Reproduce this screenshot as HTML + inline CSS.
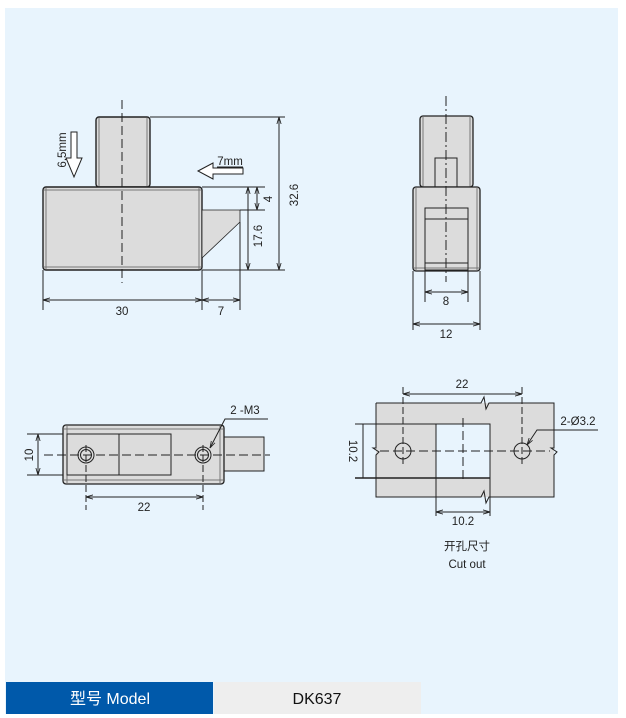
<!DOCTYPE html>
<html><head><meta charset="utf-8"><style>
html,body{margin:0;padding:0;background:#fff;}
svg{display:block;}
text{font-family:"Liberation Sans","Noto Sans CJK SC",sans-serif;fill:#222;}
</style></head><body>
<svg width="626" height="718" viewBox="0 0 626 718" xmlns="http://www.w3.org/2000/svg">
<defs>
<marker id="a" viewBox="0 0 10 10" refX="10" refY="5" markerWidth="7" markerHeight="7" orient="auto-start-reverse"><path d="M0,2 L10,5 L0,8" fill="none" stroke="#222" stroke-width="1.2"/></marker>
</defs>
<rect x="5" y="8" width="613" height="706" fill="#e8f4fd"/>

<g stroke="#222" fill="none" stroke-width="1">
<!-- FRONT VIEW -->
<rect x="96" y="117" width="54" height="70" rx="3" fill="#dcdcdc" stroke-width="1.4"/>
<line x1="99" y1="118" x2="99" y2="187" stroke="#777"/><line x1="147" y1="118" x2="147" y2="187" stroke="#777"/>
<rect x="43" y="187" width="159" height="83" rx="3" fill="#dcdcdc" stroke-width="1.4"/>
<line x1="46" y1="188" x2="46" y2="269" stroke="#777"/><line x1="199" y1="188" x2="199" y2="269" stroke="#777"/>
<line x1="44" y1="190" x2="201" y2="190" stroke="#777"/><line x1="44" y1="267" x2="201" y2="267" stroke="#777"/>
<polygon points="202,210 240,210 240,222 202,258" fill="#dcdcdc" stroke-width="0.8"/>
<line x1="122" y1="100" x2="122" y2="283" stroke-dasharray="9,4"/>
<line x1="150" y1="117" x2="285" y2="117"/>
<line x1="202" y1="270" x2="285" y2="270"/>
<line x1="202" y1="187" x2="265" y2="187"/>
<line x1="240" y1="210" x2="265" y2="210"/>
<line x1="279" y1="117" x2="279" y2="270" marker-start="url(#a)" marker-end="url(#a)"/>
<line x1="248" y1="187" x2="248" y2="270" marker-start="url(#a)" marker-end="url(#a)"/>
<line x1="257" y1="187" x2="257" y2="210" marker-start="url(#a)" marker-end="url(#a)"/>
<line x1="43" y1="270" x2="43" y2="310"/><line x1="202" y1="270" x2="202" y2="310"/><line x1="240" y1="222" x2="240" y2="310"/>
<line x1="43" y1="300" x2="202" y2="300" marker-start="url(#a)" marker-end="url(#a)"/>
<line x1="202" y1="300" x2="240" y2="300" marker-start="url(#a)" marker-end="url(#a)"/>
<polygon points="71,132 77,132 77,158 82,158 74,177 66,158 71,158" fill="#fff"/>
<polygon points="198,171 213,163 213,168 243,168 243,174 213,174 213,179" fill="#fff"/>
<line x1="217" y1="167" x2="243" y2="167"/>

<!-- SIDE VIEW -->
<rect x="420" y="116" width="53" height="71" rx="3" fill="#dcdcdc" stroke-width="1.3"/>
<line x1="423" y1="117" x2="423" y2="187" stroke="#777"/><line x1="470" y1="117" x2="470" y2="187" stroke="#777"/>
<rect x="435" y="158" width="22" height="29"/>
<rect x="413" y="187" width="67" height="84" rx="3" fill="#dcdcdc" stroke-width="1.3"/>
<line x1="416" y1="188" x2="416" y2="270" stroke="#777"/><line x1="477" y1="188" x2="477" y2="270" stroke="#777"/>
<line x1="414" y1="268" x2="479" y2="268" stroke="#777"/>
<rect x="425" y="208" width="43" height="62"/>
<line x1="425" y1="219" x2="468" y2="219"/><line x1="425" y1="263" x2="468" y2="263"/>
<line x1="446" y1="96" x2="446" y2="282" stroke-dasharray="10,3,2,3"/>
<line x1="425" y1="270" x2="425" y2="302"/><line x1="468" y1="270" x2="468" y2="302"/>
<line x1="425" y1="292" x2="468" y2="292" marker-start="url(#a)" marker-end="url(#a)"/>
<line x1="413" y1="271" x2="413" y2="330"/><line x1="480" y1="271" x2="480" y2="330"/>
<line x1="413" y1="324" x2="480" y2="324" marker-start="url(#a)" marker-end="url(#a)"/>

<!-- TOP VIEW -->
<rect x="224" y="437" width="40" height="34" fill="#dcdcdc"/>
<rect x="63" y="425" width="161" height="59" rx="3" fill="#dcdcdc" stroke-width="1.3"/>
<line x1="64" y1="429" x2="223" y2="429" stroke="#777"/><line x1="64" y1="480" x2="223" y2="480" stroke="#777"/>
<line x1="67" y1="426" x2="67" y2="483" stroke="#777"/><line x1="220" y1="426" x2="220" y2="483" stroke="#777"/>
<rect x="67" y="434" width="104" height="41"/>
<line x1="119" y1="434" x2="119" y2="475"/>
<circle cx="86" cy="455" r="8"/><circle cx="86" cy="455" r="5.5"/>
<circle cx="203" cy="455" r="8"/><circle cx="203" cy="455" r="5.5"/>
<line x1="44" y1="455" x2="270" y2="455" stroke-dasharray="9,4"/>
<line x1="86" y1="445" x2="86" y2="510" stroke-dasharray="7,3"/>
<line x1="203" y1="445" x2="203" y2="510" stroke-dasharray="7,3"/>
<line x1="86" y1="497" x2="203" y2="497" marker-start="url(#a)" marker-end="url(#a)"/>
<line x1="27" y1="434" x2="63" y2="434"/><line x1="27" y1="475" x2="63" y2="475"/>
<line x1="38" y1="434" x2="38" y2="475" marker-start="url(#a)" marker-end="url(#a)"/>
<polyline points="268,419 225,419 210,448" marker-end="url(#a)"/>

<!-- CUT OUT -->
<rect x="376" y="403" width="178" height="94" fill="#dcdcdc" stroke="none"/>
<polyline points="376,403 481,403 484,397 486,409 489,403 554,403 554,448 551,448 557,452 554,455 554,497 489,497 486,503 484,491 481,497 376,497 376,455 379,452 373,448 376,448 376,403"/>
<rect x="436" y="424" width="54" height="54" fill="#e8f4fd"/>
<line x1="355" y1="424" x2="490" y2="424"/>
<line x1="355" y1="478" x2="490" y2="478" stroke-width="1.6"/>
<line x1="436" y1="424" x2="436" y2="516"/><line x1="490" y1="424" x2="490" y2="516"/>
<line x1="363" y1="424" x2="363" y2="478"/>
<circle cx="403" cy="451" r="8" fill="#dcdcdc"/><circle cx="522" cy="451" r="8" fill="#dcdcdc"/>
<line x1="380" y1="451" x2="550" y2="451" stroke-dasharray="9,4"/>
<line x1="403" y1="387" x2="403" y2="465" stroke-dasharray="7,3"/>
<line x1="522" y1="387" x2="522" y2="465" stroke-dasharray="7,3"/>
<line x1="463" y1="418" x2="463" y2="482" stroke-dasharray="9,4"/>
<line x1="403" y1="394" x2="522" y2="394" marker-start="url(#a)" marker-end="url(#a)"/>
<line x1="436" y1="512" x2="490" y2="512" marker-start="url(#a)" marker-end="url(#a)"/>
<polyline points="598,430 537,430 527,445" marker-end="url(#a)"/>
</g>

<g font-size="11.5">
<text x="122" y="315" text-anchor="middle">30</text>
<text x="221" y="315" text-anchor="middle">7</text>
<text x="230" y="165" text-anchor="middle">7mm</text>
<text transform="translate(66,150) rotate(-90)" text-anchor="middle">6.5mm</text>
<text transform="translate(298,195) rotate(-90)" text-anchor="middle">32.6</text>
<text transform="translate(262,236) rotate(-90)" text-anchor="middle">17.6</text>
<text transform="translate(272,199) rotate(-90)" text-anchor="middle">4</text>
<text x="446" y="305" text-anchor="middle">8</text>
<text x="446" y="338" text-anchor="middle">12</text>
<text x="245" y="414" text-anchor="middle">2 -M3</text>
<text transform="translate(33,455) rotate(-90)" text-anchor="middle">10</text>
<text x="144" y="511" text-anchor="middle">22</text>
<text x="462" y="388" text-anchor="middle">22</text>
<text x="578" y="425" text-anchor="middle">2-Ø3.2</text>
<text transform="translate(349,451) rotate(90)" text-anchor="middle">10.2</text>
<text x="463" y="525" text-anchor="middle">10.2</text>
<text x="467" y="550" text-anchor="middle">开孔尺寸</text>
<text x="467" y="568" text-anchor="middle">Cut out</text>
</g>

<rect x="6" y="682" width="207" height="32" fill="#0059aa"/>
<rect x="214" y="682" width="207" height="32" fill="#eeeeee"/>
<text x="110" y="704" font-size="16" text-anchor="middle" style="fill:#fff">型号 Model</text>
<text x="317" y="704" font-size="16" text-anchor="middle" style="fill:#111">DK637</text>
</svg>
</body></html>
